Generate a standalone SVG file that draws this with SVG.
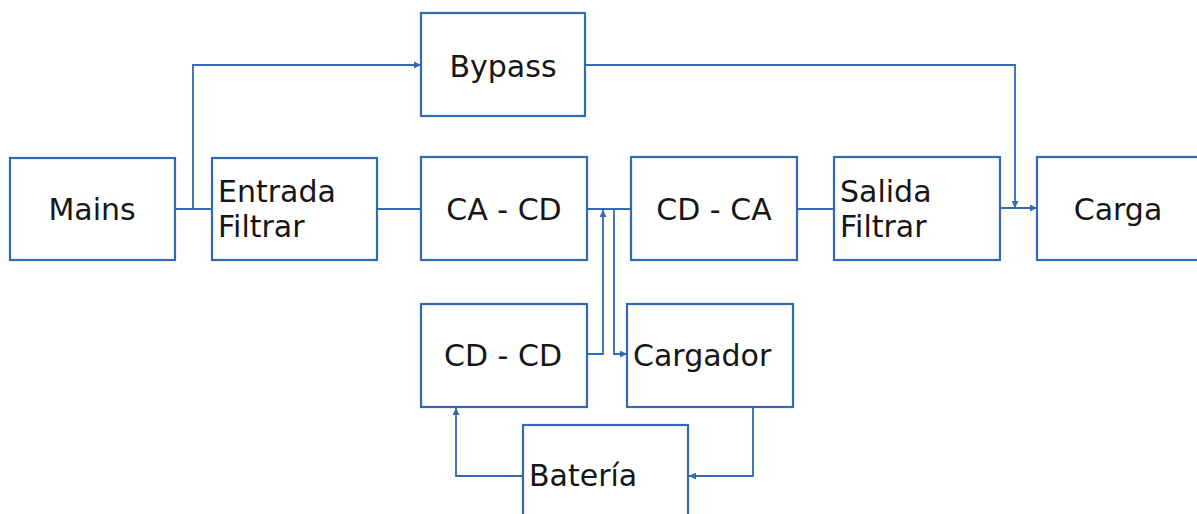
<svg xmlns="http://www.w3.org/2000/svg" width="1197" height="514" viewBox="0 0 1197 514">
<defs>
<style>
.box{fill:#ffffff;stroke:#3469b4;stroke-width:2.2}
.lbl{font-family:"DejaVu Sans","Liberation Sans",sans-serif;font-size:30px;fill:#161616}
.c{text-anchor:middle}
.conn{fill:none;stroke:#3469b4;stroke-width:1.8}
</style>
<marker id="ah" viewBox="0 0 10 10" refX="10" refY="5" markerWidth="7" markerHeight="7" markerUnits="userSpaceOnUse" orient="auto">
<path d="M0,0 L10,5 L0,10 z" fill="#3469b4"/>
</marker>
</defs>
<rect width="1197" height="514" fill="#ffffff"/>
<g id="connectors">
<path class="conn" d="M175,209 H212"/>
<path class="conn" d="M193,209 V65 H421" marker-end="url(#ah)"/>
<path class="conn" d="M377,209 H421"/>
<path class="conn" d="M587,209 H631"/>
<path class="conn" d="M587,354 H603 V210" marker-end="url(#ah)"/>
<path class="conn" d="M614,209 V354 H627" marker-end="url(#ah)"/>
<path class="conn" d="M797,209 H834"/>
<path class="conn" d="M585,65 H1015 V208" marker-end="url(#ah)"/>
<path class="conn" d="M1000,208 H1037" marker-end="url(#ah)"/>
<path class="conn" d="M523,476 H456 V408" marker-end="url(#ah)"/>
<path class="conn" d="M753,407 V476 H689" marker-end="url(#ah)"/>
</g>
<g id="mains">
<rect class="box" x="10" y="158" width="165" height="102"/>
<text class="lbl c" x="92" y="220">Mains</text>
</g>
<g id="entrada">
<rect class="box" x="212" y="158" width="165" height="102"/>
<text class="lbl" x="218" y="202">Entrada</text>
<text class="lbl" x="218" y="237">Filtrar</text>
</g>
<g id="bypass">
<rect class="box" x="421" y="13" width="164" height="103"/>
<text class="lbl c" x="503" y="77">Bypass</text>
</g>
<g id="ca-cd">
<rect class="box" x="421" y="157" width="166" height="103"/>
<text class="lbl c" x="504" y="220">CA - CD</text>
</g>
<g id="cd-ca">
<rect class="box" x="631" y="157" width="166" height="103"/>
<text class="lbl c" x="714" y="220">CD - CA</text>
</g>
<g id="salida">
<rect class="box" x="834" y="157" width="166" height="103"/>
<text class="lbl" x="840" y="202">Salida</text>
<text class="lbl" x="840" y="237">Filtrar</text>
</g>
<g id="carga">
<rect class="box" x="1037" y="157" width="170" height="103"/>
<text class="lbl c" x="1118" y="220">Carga</text>
</g>
<g id="cd-cd">
<rect class="box" x="421" y="304" width="166" height="103"/>
<text class="lbl c" x="503" y="366">CD - CD</text>
</g>
<g id="cargador">
<rect class="box" x="627" y="304" width="166" height="103"/>
<text class="lbl" x="633" y="366">Cargador</text>
</g>
<g id="bateria">
<rect class="box" x="523" y="425" width="165" height="100"/>
<text class="lbl" x="529" y="486">Batería</text>
</g>
</svg>
